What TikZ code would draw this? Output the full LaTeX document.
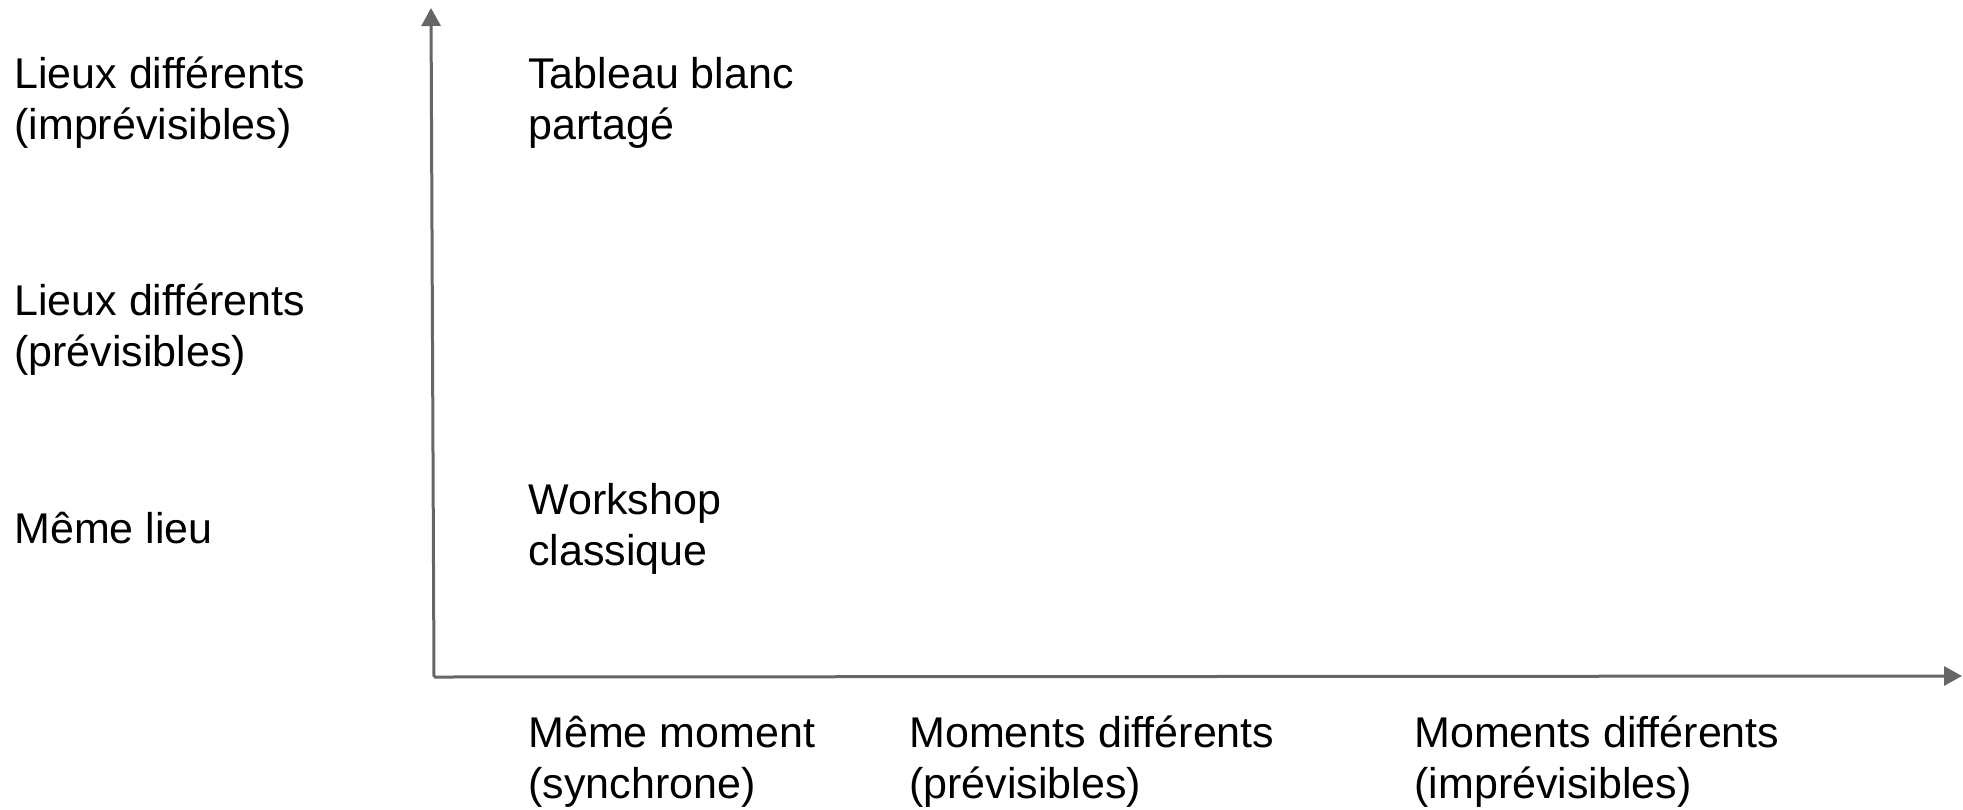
\documentclass[tikz,border=0pt]{standalone}
\usepackage{fontspec}
\setmainfont{Liberation Sans}
\usetikzlibrary{arrows.meta}
\definecolor{axisgray}{HTML}{666666}
\tikzset{
  axis/.style={draw=axisgray, line width=1.5pt, -{Triangle[length=9pt,width=9.5pt]}},
  lbl/.style={anchor=base west, align=left, inner sep=0pt, font=\fontsize{21.5}{25.5}\selectfont}
}
\begin{document}
\begin{tikzpicture}[x=0.5pt,y=-0.5pt]
\useasboundingbox (0,0) rectangle (1963,809);
\coordinate (o) at (434,677);
\coordinate (ytop) at (431,8);
\coordinate (xend) at (1962,676);
\draw[axis] (o) -- (ytop);
\draw[axis] (o) -- (xend);
\node[lbl] (y1) at (14,139) {Lieux différents\\(imprévisibles)};
\node[lbl] (y2) at (14,366) {Lieux différents\\(prévisibles)};
\node[lbl] (y3) at (14,543) {Même lieu};
\node[lbl] (c1) at (528,139) {Tableau blanc\\partagé};
\node[lbl] (c2) at (528,565) {Workshop\\classique};
\node[lbl] (x1) at (528,798) {Même moment\\(synchrone)};
\node[lbl] (x2) at (909,798) {Moments différents\\(prévisibles)};
\node[lbl] (x3) at (1414,798) {Moments différents\\(imprévisibles)};
\end{tikzpicture}
\end{document}
